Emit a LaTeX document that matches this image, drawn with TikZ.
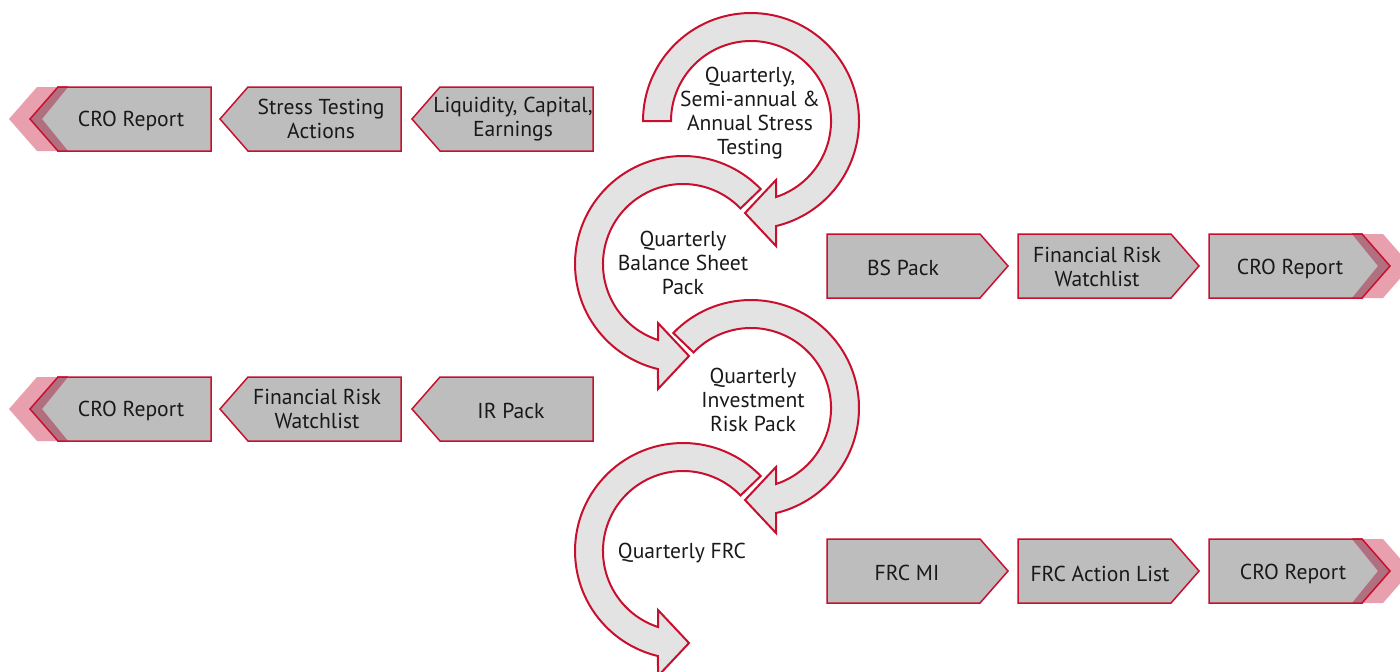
\documentclass[tikz,border=0pt]{standalone}
\usepackage{fontspec}
\setmainfont{PT Sans}
\usetikzlibrary{calc}
\definecolor{crimson}{RGB}{200,16,46}
\definecolor{boxgrey}{RGB}{189,189,189}
\definecolor{ringgrey}{RGB}{227,227,227}
\definecolor{pinkband}{RGB}{232,160,175}
\definecolor{pinkdark}{RGB}{176,112,128}
\definecolor{inkc}{RGB}{25,25,25}

\begin{document}
\begin{tikzpicture}[x=0.5pt, y=-0.5pt,
    chev/.style={fill=boxgrey, draw=crimson, line width=0.75pt, line join=miter},
    ring/.style={fill=ringgrey, draw=crimson, line width=1pt, line join=miter},
    lbl/.style={text=inkc, font=\fontsize{10.8}{12}\selectfont, align=center, inner sep=0pt}]
    \useasboundingbox (0,0) rectangle (1400,671);
    \clip (0,0) rectangle (1400,671);

    % Left rows (pointing left)
    \foreach \y in {87,377} {
        \foreach \x in {30,220,412} {
            \draw[chev] (\x+28,\y) -- (\x+181,\y) -- (\x+181,\y+64) -- (\x+28,\y+64) -- (\x,\y+32) -- cycle;
        }
        \fill[pinkband] (37,\y) -- (68,\y) -- (42,\y+32) -- (68,\y+64) -- (37,\y+64) -- (9,\y+32) -- cycle;
        \fill[pinkdark] (58,\y) -- (68,\y) -- (42,\y+32) -- (68,\y+64) -- (58,\y+64) -- (30,\y+32) -- cycle;
        \draw[crimson, line width=0.75pt] (68,\y) -- (58,\y) -- (30,\y+32) -- (58,\y+64) -- (68,\y+64);
    }

    % Right rows (pointing right)
    \foreach \y in {234,539} {
        \foreach \x in {827,1018,1209} {
            \draw[chev] (\x,\y) -- (\x+153,\y) -- (\x+181,\y+32) -- (\x+153,\y+64) -- (\x,\y+64) -- cycle;
        }
        \fill[pinkband] (1352,\y) -- (1383,\y) -- (1411,\y+32) -- (1383,\y+64) -- (1352,\y+64) -- (1378,\y+32) -- cycle;
        \fill[pinkdark] (1352,\y) -- (1362,\y) -- (1390,\y+32) -- (1362,\y+64) -- (1352,\y+64) -- (1378,\y+32) -- cycle;
        \draw[crimson, line width=0.75pt] (1352,\y) -- (1362,\y) -- (1390,\y+32) -- (1362,\y+64) -- (1352,\y+64);
    }

    % Box labels
    \node[lbl] (crotop) at (131,121) {CRO Report};
    \node[lbl] (stressact) at (321,119) {Stress Testing\\Actions};
    \node[lbl] (liquidity) at (513,119) {Liquidity, Capital,\\Earnings};
    \node[lbl] (bs) at (903,268) {BS Pack};
    \node[lbl] (frwone) at (1097,267) {Financial Risk\\Watchlist};
    \node[lbl] (croone) at (1290,269) {CRO Report};
    \node[lbl] (cromid) at (131,411) {CRO Report};
    \node[lbl] (frwtwo) at (317,409) {Financial Risk\\Watchlist};
    \node[lbl] (ir) at (511,411) {IR Pack};
    \node[lbl] (frcmi) at (907,573) {FRC MI};
    \node[lbl] (frcact) at (1100,574) {FRC Action List};
    \node[lbl] (crotwo) at (1293,574) {CRO Report};

    % Cycle arrows
    \coordinate (c1) at (751,121);
    \coordinate (c2) at (683,264);
    \coordinate (c3) at (751,408);
    \coordinate (c4) at (683,551);
    \draw[ring] ($(c1)+(180:108)$) arc[start angle=180, end angle=436.6, radius=108]
        -- ($(c1)+(25,125)$) -- ($(c1)+(-6,92)$) -- ($(c1)+(25,59)$) -- ($(c1)+(25,76)$)
        arc[start angle=431.8, end angle=180, radius=80] -- cycle;
    \draw[ring] ($(c2)+(316:108)$) arc[start angle=316, end angle=103.4, radius=108]
        -- ($(c2)+(-25,125)$) -- ($(c2)+(6,92)$) -- ($(c2)+(-25,59)$) -- ($(c2)+(-25,76)$)
        arc[start angle=108.2, end angle=316, radius=80] -- cycle;
    \draw[ring] ($(c3)+(224:108)$) arc[start angle=224, end angle=436.6, radius=108]
        -- ($(c3)+(25,125)$) -- ($(c3)+(-6,92)$) -- ($(c3)+(25,59)$) -- ($(c3)+(25,76)$)
        arc[start angle=431.8, end angle=224, radius=80] -- cycle;
    \draw[ring] ($(c4)+(316:108)$) arc[start angle=316, end angle=103.4, radius=108]
        -- ($(c4)+(-25,125)$) -- ($(c4)+(6,92)$) -- ($(c4)+(-25,59)$) -- ($(c4)+(-25,76)$)
        arc[start angle=108.2, end angle=316, radius=80] -- cycle;

    % Cycle labels
    \node[lbl] (stress) at (750,113) {Quarterly,\\Semi-annual \&\\Annual Stress\\Testing};
    \node[lbl] (balance) at (683,263) {Quarterly\\Balance Sheet\\Pack};
    \node[lbl] (invest) at (753,400) {Quarterly\\Investment\\Risk Pack};
    \node[lbl] (frc) at (682,553) {Quarterly FRC};
\end{tikzpicture}
\end{document}
